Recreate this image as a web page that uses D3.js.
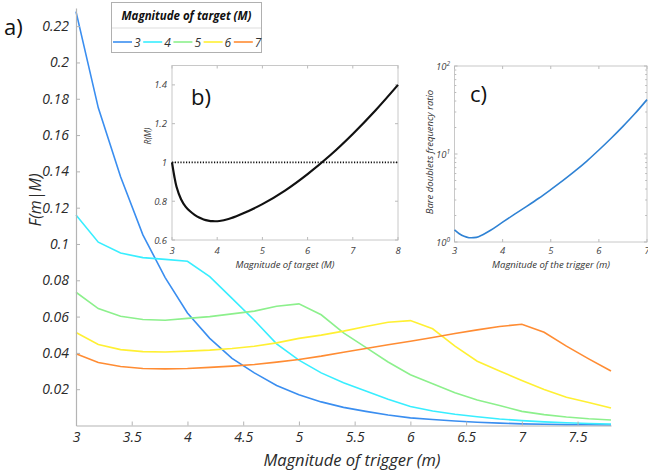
<!DOCTYPE html>
<html>
<head>
<meta charset="utf-8">
<script src="https://cdn.jsdelivr.net/npm/d3@7"></script>
<style>
  body { margin: 0; background: #fff; }
  svg { display: block; font-family: "Open Sans", sans-serif; }
  .it { font-style: italic; }
</style>
</head>
<body>
<div id="chart"></div>
<script>
(function() {
  'use strict';

  // --- Panel a: F(m|M) against trigger magnitude m ---
  const trigger = [3, 3.2, 3.4, 3.6, 3.8, 4, 4.2, 4.4, 4.6, 4.8, 5, 5.2, 5.4,
    5.6, 5.8, 6, 6.2, 6.4, 6.6, 6.8, 7, 7.2, 7.4, 7.6, 7.8];
  const targets = [3, 4, 5, 6, 7];
  const fM3 = [0.228, 0.175, 0.137, 0.105, 0.0815, 0.062, 0.048, 0.037, 0.029, 0.022,
    0.017, 0.013, 0.010, 0.0078, 0.0058, 0.0042, 0.0033, 0.0025, 0.0018, 0.0013,
    0.0009, 0.0007, 0.0005, 0.0004, 0.0003];
  const fM4 = [0.116, 0.101, 0.095, 0.0925, 0.0915, 0.0905, 0.082, 0.070, 0.058, 0.045,
    0.036, 0.029, 0.0235, 0.019, 0.0145, 0.0105, 0.008, 0.0062, 0.0048, 0.0036,
    0.0027, 0.002, 0.0015, 0.0011, 0.0008];
  const fM5 = [0.0734, 0.0644, 0.0602, 0.0584, 0.058, 0.059, 0.060, 0.0615, 0.063, 0.0657,
    0.067, 0.061, 0.051, 0.043, 0.035, 0.028, 0.023, 0.018, 0.014, 0.011,
    0.0078, 0.006, 0.0047, 0.0037, 0.003];
  const fM6 = [0.0512, 0.0446, 0.0418, 0.0407, 0.0405, 0.041, 0.0415, 0.0424, 0.0437, 0.0455,
    0.048, 0.0498, 0.052, 0.0545, 0.0569, 0.0578, 0.0533, 0.0437, 0.0354, 0.030,
    0.0248, 0.0198, 0.0156, 0.0127, 0.0096];
  const fM7 = [0.0395, 0.0347, 0.0325, 0.0314, 0.0312, 0.0314, 0.032, 0.0327, 0.0336, 0.0349,
    0.0364, 0.0382, 0.0404, 0.0424, 0.0445, 0.0464, 0.0485, 0.0507, 0.0527, 0.0545,
    0.0558, 0.0514, 0.0437, 0.0367, 0.030];
  const seriesA = [fM3, fM4, fM5, fM6, fM7];
  const colorsA = ['#3a8ef0', '#38eeff', '#8cf08c', '#fff033', '#ff8c33'];
  const ticksAX = [3, 3.5, 4, 4.5, 5, 5.5, 6, 6.5, 7, 7.5];
  const ticksAY = [0.02, 0.04, 0.06, 0.08, 0.1, 0.12, 0.14, 0.16, 0.18, 0.2, 0.22];

  // --- Panel b: R(M) against target magnitude ---
  const targetB = [3, 3.05, 3.1, 3.2, 3.3, 3.4, 3.5, 3.6, 3.7, 3.8, 3.9, 4.05, 4.25,
    4.5, 5, 5.5, 6, 6.5, 7, 7.5, 8];
  const ratioB = [1.0, 0.93, 0.875, 0.81, 0.772, 0.748, 0.73, 0.716, 0.706, 0.7, 0.697,
    0.698, 0.708, 0.73, 0.785, 0.855, 0.94, 1.037, 1.147, 1.268, 1.40];
  const ticksBX = [3, 4, 5, 6, 7, 8];
  const ticksBY = [0.6, 0.8, 1, 1.2, 1.4];

  // --- Panel c: bare doublets frequency ratio (log) ---
  const triggerC = [3, 3.1, 3.2, 3.3, 3.4, 3.5, 3.75, 4, 4.25, 4.5, 4.75, 5, 5.25, 5.5,
    5.75, 6, 6.25, 6.5, 6.75, 7];
  const ratioC = [1.37, 1.24, 1.16, 1.12, 1.12, 1.15, 1.36, 1.68, 2.07, 2.54, 3.14, 3.94,
    4.98, 6.38, 8.32, 11.1, 15.0, 20.6, 28.8, 41.5];
  const ticksCX = [3, 4, 5, 6, 7];
  const ticksCY = [1, 10, 100];

  const W = 648, H = 470;
  const svg = d3.select('#chart').append('svg')
    .attr('width', W).attr('height', H);

  const axisGrey = '#b4b4b4';
  const textCol = '#2a2a2a';

  // ================= Panel a =================
  const xA = d3.scaleLinear().domain([3, 7.8]).range([76, 611]);
  const yA = d3.scaleLinear().domain([0, 0.23]).range([425.5, 8]);

  const gA = svg.append('g');
  const lineA = d3.line()
    .x((d, i) => xA(trigger[i]))
    .y(d => yA(d));

  gA.selectAll('path.series')
    .data(seriesA)
    .join('path')
    .attr('class', 'series')
    .attr('fill', 'none')
    .attr('stroke', (d, i) => colorsA[i])
    .attr('stroke-width', 1.6)
    .attr('d', lineA);

  const axAX = gA.append('g')
    .attr('transform', `translate(0,${yA(0)})`)
    .call(d3.axisBottom(xA).tickValues(ticksAX).tickSize(-4).tickSizeOuter(0)
      .tickFormat(d3.format('')));
  const axAY = gA.append('g')
    .attr('transform', `translate(${xA(3)},0)`)
    .call(d3.axisLeft(yA).tickValues(ticksAY).tickSize(-4).tickSizeOuter(0)
      .tickFormat(d3.format('')));
  [axAX, axAY].forEach(ax => {
    ax.select('.domain').attr('stroke', axisGrey).attr('stroke-width', 1.2);
    ax.selectAll('.tick line').attr('stroke', axisGrey);
    ax.selectAll('.tick text')
      .attr('class', 'it')
      .attr('fill', textCol)
      .attr('font-size', 14)
      .attr('font-family', '"Open Sans", sans-serif');
  });
  axAX.selectAll('.tick text').attr('y', 4).attr('dy', '0.9em');
  axAY.selectAll('.tick text').attr('x', -7);

  svg.append('text')
    .attr('class', 'it')
    .attr('x', 352).attr('y', 466)
    .attr('text-anchor', 'middle')
    .attr('font-size', 16.5)
    .attr('fill', textCol)
    .text('Magnitude of trigger (m)');

  svg.append('text')
    .attr('class', 'it')
    .attr('transform', 'translate(41,200) rotate(-90)')
    .attr('text-anchor', 'middle')
    .attr('font-size', 16)
    .attr('fill', textCol)
    .text('F(m|M)');

  svg.append('text')
    .attr('x', 4).attr('y', 35)
    .attr('font-size', 22)
    .attr('fill', '#111')
    .text('a)');

  // ================= Panel b =================
  const xB = d3.scaleLinear().domain([3, 8]).range([172, 398]);
  const yB = d3.scaleLinear().domain([0.6, 1.5]).range([240, 65.5]);
  const gB = svg.append('g');

  gB.append('rect')
    .attr('x', xB(3)).attr('y', yB(1.5))
    .attr('width', xB(8) - xB(3)).attr('height', yB(0.6) - yB(1.5))
    .attr('fill', '#fff')
    .attr('stroke', '#c8c8c8');

  // inward ticks on all four sides of an inset box
  const boxTicks = (g, x, y, xt, yt, len) => {
    const [x0, x1] = x.range();
    const [y0, y1] = y.range();
    g.append('g').selectAll('line').data(xt).join('line')
      .attr('x1', d => x(d)).attr('x2', d => x(d))
      .attr('y1', y0).attr('y2', y0 - len).attr('stroke', '#bbb');
    g.append('g').selectAll('line').data(xt).join('line')
      .attr('x1', d => x(d)).attr('x2', d => x(d))
      .attr('y1', y1).attr('y2', y1 + len).attr('stroke', '#bbb');
    g.append('g').selectAll('line').data(yt).join('line')
      .attr('x1', x0).attr('x2', x0 + len)
      .attr('y1', d => y(d)).attr('y2', d => y(d)).attr('stroke', '#bbb');
    g.append('g').selectAll('line').data(yt).join('line')
      .attr('x1', x1).attr('x2', x1 - len)
      .attr('y1', d => y(d)).attr('y2', d => y(d)).attr('stroke', '#bbb');
  };
  boxTicks(gB, xB, yB, ticksBX, ticksBY, 3);

  gB.append('line')
    .attr('x1', xB(3)).attr('x2', xB(8))
    .attr('y1', yB(1)).attr('y2', yB(1))
    .attr('stroke', '#111')
    .attr('stroke-width', 1.8)
    .attr('stroke-dasharray', '1.2,1.6');

  gB.append('path')
    .datum(ratioB)
    .attr('fill', 'none')
    .attr('stroke', '#111')
    .attr('stroke-width', 2.2)
    .attr('d', d3.line()
      .x((d, i) => xB(targetB[i]))
      .y(d => yB(d))
      .curve(d3.curveCatmullRom));

  gB.append('g').selectAll('text').data(ticksBX).join('text')
    .attr('class', 'it')
    .attr('x', d => xB(d)).attr('y', 254)
    .attr('text-anchor', 'middle')
    .attr('font-size', 9.5).attr('fill', '#444')
    .text(d => d);
  gB.append('g').selectAll('text').data(ticksBY).join('text')
    .attr('class', 'it')
    .attr('x', 167).attr('y', d => yB(d) + 3.5)
    .attr('text-anchor', 'end')
    .attr('font-size', 9.5).attr('fill', '#444')
    .text(d => d);

  svg.append('text')
    .attr('class', 'it')
    .attr('x', 285).attr('y', 268)
    .attr('text-anchor', 'middle')
    .attr('font-size', 9.5).attr('fill', '#333')
    .text('Magnitude of target (M)');
  svg.append('text')
    .attr('class', 'it')
    .attr('transform', 'translate(151,136) rotate(-90)')
    .attr('text-anchor', 'middle')
    .attr('font-size', 8.5).attr('fill', '#333')
    .text('R(M)');
  svg.append('text')
    .attr('x', 191).attr('y', 105)
    .attr('font-size', 22).attr('fill', '#111')
    .text('b)');

  // ================= Panel c =================
  const xC = d3.scaleLinear().domain([3, 7]).range([454.5, 647]);
  const yC = d3.scaleLog().domain([1, 100]).range([242, 66]);
  const gC = svg.append('g');

  gC.append('rect')
    .attr('x', xC(3)).attr('y', yC(100))
    .attr('width', xC(7) - xC(3)).attr('height', yC(1) - yC(100))
    .attr('fill', '#fff')
    .attr('stroke', '#c8c8c8');

  const minorC = d3.range(2, 10).concat(d3.range(20, 100, 10));
  boxTicks(gC, xC, yC, ticksCX, ticksCY, 3);
  boxTicks(gC, xC, yC, [], minorC, 1.8);

  gC.append('path')
    .datum(ratioC)
    .attr('fill', 'none')
    .attr('stroke', '#2f82d4')
    .attr('stroke-width', 1.6)
    .attr('d', d3.line()
      .x((d, i) => xC(triggerC[i]))
      .y(d => yC(d))
      .curve(d3.curveCatmullRom));

  gC.append('g').selectAll('text').data(ticksCX).join('text')
    .attr('class', 'it')
    .attr('x', d => xC(d)).attr('y', 254)
    .attr('text-anchor', 'middle')
    .attr('font-size', 9.5).attr('fill', '#444')
    .text(d => d);
  const expTicks = gC.append('g').selectAll('text').data(ticksCY).join('text')
    .attr('class', 'it')
    .attr('x', 450).attr('y', d => yC(d) + 3.5)
    .attr('text-anchor', 'end')
    .attr('font-size', 9.5).attr('fill', '#444');
  expTicks.append('tspan').text('10');
  expTicks.append('tspan')
    .attr('dy', -4).attr('font-size', 6.5)
    .text(d => Math.round(Math.log10(d)));

  svg.append('text')
    .attr('class', 'it')
    .attr('x', 551).attr('y', 268)
    .attr('text-anchor', 'middle')
    .attr('font-size', 9.5).attr('fill', '#333')
    .text('Magnitude of the trigger (m)');
  svg.append('text')
    .attr('class', 'it')
    .attr('transform', 'translate(433,152) rotate(-90)')
    .attr('text-anchor', 'middle')
    .attr('font-size', 9.5).attr('fill', '#333')
    .text('Bare doublets frequency ratio');
  svg.append('text')
    .attr('x', 470).attr('y', 102)
    .attr('font-size', 22).attr('fill', '#111')
    .text('c)');

  // ================= Legend =================
  const lg = svg.append('g');
  lg.append('rect')
    .attr('x', 111.5).attr('y', 2.5)
    .attr('width', 150).attr('height', 50)
    .attr('fill', '#fff')
    .attr('stroke', '#b0b0b0');
  lg.append('line')
    .attr('x1', 112).attr('x2', 261)
    .attr('y1', 28).attr('y2', 28)
    .attr('stroke', '#ddd');
  lg.append('text')
    .attr('class', 'it')
    .attr('x', 186.5).attr('y', 20)
    .attr('text-anchor', 'middle')
    .attr('font-size', 11.5)
    .attr('font-weight', 'bold')
    .attr('fill', '#111')
    .text('Magnitude of target (M)');

  const item = lg.selectAll('g.item')
    .data(targets)
    .join('g')
    .attr('class', 'item')
    .attr('transform', (d, i) => `translate(${113 + i * 30.2},42)`);
  item.append('line')
    .attr('x1', 0).attr('x2', 19)
    .attr('stroke', (d, i) => colorsA[i])
    .attr('stroke-width', 1.6);
  item.append('text')
    .attr('class', 'it')
    .attr('x', 21).attr('y', 4.5)
    .attr('font-size', 12)
    .attr('fill', '#333')
    .text(d => d);
})();
</script>
</body>
</html>
